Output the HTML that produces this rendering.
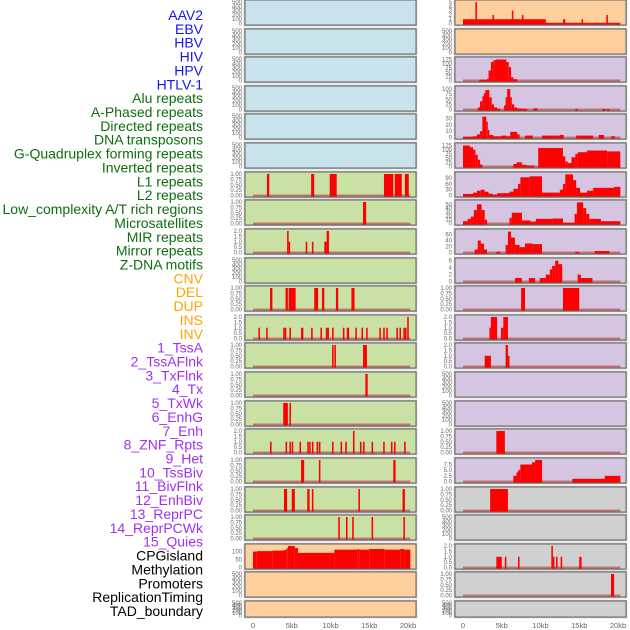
<!DOCTYPE html>
<html><head><meta charset="utf-8"><style>
html,body{margin:0;padding:0;background:#fff;width:630px;height:630px;overflow:hidden}
svg{display:block}
</style></head><body>
<svg id="chart" width="630" height="630" xmlns="http://www.w3.org/2000/svg" font-family="Liberation Sans, sans-serif"></svg>
<script>
const rowLabels = ["AAV2","EBV","HBV","HIV","HPV","HTLV-1","Alu repeats","A-Phased repeats","Directed repeats","DNA transposons","G-Quadruplex forming repeats","Inverted repeats","L1 repeats","L2 repeats","Low_complexity A/T rich regions","Microsatellites","MIR repeats","Mirror repeats","Z-DNA motifs","CNV","DEL","DUP","INS","INV","1_TssA","2_TssAFlnk","3_TxFlnk","4_Tx","5_TxWk","6_EnhG","7_Enh","8_ZNF_Rpts","9_Het","10_TssBiv","11_BivFlnk","12_EnhBiv","13_ReprPC","14_ReprPCWk","15_Quies","CPGisland","Methylation","Promoters","ReplicationTiming","TAD_boundary"];
const labelGroups = [6,13,5,15,5];
const xTickValues = [0,5,10,15,20];
const xTickLabels = ["0","5kb","10kb","15kb","20kb"];

const leftBg = ["b","b","b","b","b","b","g","g","g","g","g","g","g","g","g","g","g","g","g","o","o","o"];
const leftMax = [500,500,500,500,500,500,1,1,2,500,1,2,1,1,1,2,1,1,1,135,500,500];
const leftData = [[],[],[],[],[],[],
 [[1.8,2.1,1],[7.5,7.9,1],[9.9,10.8,1],[16.9,18.1,1],[18.3,19.2,1],[19.6,20.1,1]],
 [[14.2,14.6,1]],
 [[4.4,4.6,2],[4.6,4.75,1],[6.8,7.0,1],[7.6,7.8,1],[9.2,9.5,1],[9.5,9.8,2]],
 [],
 [[2.2,2.5,1],[4.2,4.5,1],[4.6,5.5,1],[7.9,8.4,1],[8.9,9.2,1],[10.7,11.0,1],[12.7,13.1,1]],
 [[0.7,0.9,1],[1.7,1.9,1],[3.9,4.1,1],[4.1,4.3,1],[4.7,4.9,1],[6.2,6.5,1],[7.5,7.7,1],[8.7,8.9,1],[9.4,9.6,1],[9.6,9.8,1],[10.2,10.4,1],[11.6,11.8,1],[12.1,12.4,1],[13.2,13.4,1],[14.0,14.2,1],[14.6,14.8,1],[16.3,16.5,1],[16.8,17.0,1],[17.2,17.4,1],[18.5,18.7,1],[18.9,19.1,1],[19.4,19.6,1],[19.6,19.8,1],[19.9,20.1,2]],
 [[10.2,10.4,1],[10.5,10.7,1],[14.2,14.7,1]],
 [[14.5,14.8,1]],
 [[3.9,4.5,1],[4.7,4.9,1]],
 [[2.2,2.4,1],[4.2,4.4,1],[4.7,4.9,1],[5.0,5.1,1],[6.0,6.2,1],[7.0,7.2,1],[7.25,7.4,1],[7.6,7.8,1],[8.2,8.4,1],[8.5,8.7,1],[10.2,10.4,1],[11.3,11.5,1],[11.9,12.1,1],[12.9,13.1,2],[13.8,14.0,1],[14.2,14.4,1],[15.3,15.5,1],[16.8,17.0,1],[17.8,18.0,1],[18.2,18.4,1],[19.5,19.7,1]],
 [[6.2,6.6,1],[8.5,8.7,1],[18.1,18.4,1]],
 [[4.0,4.4,1],[5.0,5.4,1],[7.0,7.3,1],[7.6,7.8,1],[13.6,13.8,1],[19.3,19.6,1]],
 [[11.0,11.2,1],[12.0,12.2,1],[12.8,13.0,1],[15.3,15.5,1],[19.4,19.6,1]],
 [[0,0.5,100],[0.5,2.5,103],[2.5,4,106],[4,4.3,110],[4.3,4.5,120],[4.5,5.4,135],[5.4,5.8,122],[5.8,10.5,92],[10.5,13.5,112],[13.5,13.7,116],[13.7,15,112],[15,17,116],[17,19,112],[19,19.5,116],[19.5,20.3,112]],
 [],[]];

const rightBg = ["o","o","p","p","p","p","p","p","p","p","p","p","p","p","p","p","p","y","y","y","y","y"];
const rightMax = [5,500,128,105,34,128,112,56,72,6.2,1,2,2,500,500,1,9.5,1,500,2,1,500];
const rightData = [
 [[0,10.5,1],[1.6,1.8,5],[3.8,4.0,2],[6.3,6.5,3],[7.6,7.8,2],[10.5,10.6,1],[10.6,20.3,0.1],[12.9,13.2,1],[15.3,15.5,1],[18.5,18.7,2]],
 [],
 [[2.1,3.1,5],[3.1,3.3,10],[3.3,3.6,60],[3.6,3.9,110],[3.9,4.2,120],[4.2,5.6,125],[5.6,5.9,110],[5.9,6.2,80],[6.2,6.5,20],[6.5,7.0,8]],
 [[1.9,2.2,10],[2.2,2.5,40],[2.5,2.7,65],[2.7,2.9,80],[2.9,3.4,95],[3.4,3.7,60],[3.7,4.0,25],[4.0,4.4,10],[4.4,4.8,4],[5.3,5.5,20],[5.5,5.7,60],[5.7,6.1,100],[6.1,6.3,60],[6.3,6.6,25],[6.6,7.0,10],[7.0,7.6,5],[7.6,8.3,3],[9.1,9.6,6],[14.5,14.8,3],[18.0,18.4,3],[18.6,18.9,3]],
 [[0,1.3,1],[1.3,1.8,2],[1.8,2.2,5],[2.2,2.5,10],[2.5,3.0,33],[3.0,3.2,25],[3.2,3.4,12],[3.4,3.9,4],[3.9,5.0,2],[5.0,5.6,3],[5.6,6.1,2],[6.1,7.0,9],[7.0,7.3,5],[8.0,9.0,3],[10.2,12.5,3],[12.5,13.0,4],[14.6,16.8,3],[17.5,18.2,4],[19.1,19.6,2]],
 [[0,0.9,125],[0.9,1.3,115],[1.3,1.6,100],[1.6,1.9,70],[1.9,2.2,40],[2.2,2.5,12],[6.5,6.9,15],[6.9,7.6,25],[7.6,8.2,10],[8.2,9.2,6],[9.7,12.9,110],[12.9,13.2,60],[13.2,13.5,30],[13.5,14.0,20],[14.0,14.5,55],[14.5,14.8,75],[14.8,16.0,85],[16.0,18.6,95],[18.6,20.3,90]],
 [[0,1.3,8],[1.3,1.8,15],[1.8,2.3,25],[2.3,2.8,30],[2.8,3.3,20],[3.3,3.8,10],[3.8,4.4,5],[4.4,6.0,12],[6.0,6.5,20],[6.5,7.1,35],[7.1,7.4,60],[7.4,8.6,95],[8.6,10.2,100],[10.2,12.5,15],[12.5,12.9,30],[12.9,13.2,60],[13.2,14.2,110],[14.2,14.6,80],[14.6,15.1,40],[15.1,16.0,15],[16.0,16.8,25],[16.8,19.5,40],[19.5,20.3,45]],
 [[0,0.6,6],[0.6,1.0,12],[1.0,1.4,18],[1.4,1.8,35],[1.8,2.4,50],[2.4,2.8,35],[2.8,3.1,10],[6.0,6.3,15],[6.3,7.6,28],[7.6,8.7,8],[8.7,9.4,5],[9.4,11.5,12],[11.5,12.9,13],[12.9,14.4,2],[14.4,14.7,25],[14.7,15.5,55],[15.5,15.9,40],[15.9,16.3,25],[16.3,17.8,12],[17.8,20.3,6]],
 [[1.5,1.9,10],[1.9,2.3,40],[2.3,2.7,30],[2.7,3.1,10],[4.3,4.8,3],[5.5,5.8,25],[5.8,6.2,70],[6.2,6.7,50],[6.7,7.3,25],[7.3,8.0,18],[8.0,9.0,30],[9.0,10.2,28],[14.5,15.0,2],[17.0,18.9,5]],
 [[6.7,7.6,1],[8.5,9.3,1],[9.9,10.7,1],[10.7,11.2,2],[11.2,11.5,3.5],[11.5,11.9,4.5],[11.9,12.3,6],[12.3,12.8,5],[14.8,15.2,2],[15.2,16.7,1]],
 [[7.5,8.0,1],[12.9,15.0,1]],
 [[3.4,3.6,1],[3.6,4.4,2],[4.9,5.2,1],[5.2,5.8,2]],
 [[2.8,3.6,1],[5.5,5.8,2],[5.8,6.0,1]],
 [],[],
 [[4.3,5.4,1]],
 [[6.5,6.9,2.5],[6.9,7.1,4],[7.1,7.4,5],[7.4,8.9,7.5],[8.9,9.3,8.5],[9.3,10.2,9.5],[14.1,18.3,1.2],[18.3,20.3,2.5]],
 [[3.5,5.8,1]],
 [],
 [[4.3,5.0,1],[5.4,5.6,1],[7.1,7.3,1],[11.4,11.6,2],[11.6,11.8,1],[12.0,12.2,1],[12.6,12.8,1],[15.0,15.3,1]],
 [[19.1,19.5,1]],
 []];

const svg = document.getElementById('chart');
const NS = 'http://www.w3.org/2000/svg';
function mk(tag, attrs, parent){ const e=document.createElementNS(NS,tag); for(const k in attrs) e.setAttribute(k,attrs[k]); (parent||svg).appendChild(e); return e; }
const bgColors = {b:'#c8e3eb',g:'#c9e1a5',o:'#fed09e',p:'#d5c5e1',y:'#d0d0d0'};
const groupColors = ['#1515ee','#0e6e0e','#ffa500','#a030f0','#000000'];

// labels
let li = 0;
labelGroups.forEach((n,g)=>{ for(let k=0;k<n;k++){ const t=mk('text',{x:203,y:15+li*13.86+5,'text-anchor':'end','font-size':'14',fill:groupColors[g]});
  t.textContent=rowLabels[li];
  
   li++; } });

function ticksFor(m){
  if(m===500) return [[0,'0'],[100,'100'],[200,'200'],[300,'300'],[400,'400'],[500,'500']];
  if(m===1) return [0,0.25,0.5,0.75,1].map(v=>[v,v.toFixed(2)]);
  if(m===2) return [0,0.5,1,1.5,2].map(v=>[v,v.toFixed(1)]);
  if(m===5) return [0,1,2,3,4,5].map(v=>[v,''+v]);
  if(m===128) return [0,25,50,75,100,125].map(v=>[v,''+v]);
  if(m===105) return [0,25,50,75,100].map(v=>[v,''+v]);
  if(m===34) return [0,10,20,30].map(v=>[v,''+v]);
  if(m===112) return [0,30,60,90].map(v=>[v,''+v]);
  if(m===56) return [0,10,20,30,40,50].map(v=>[v,''+v]);
  if(m===72) return [0,20,40,60].map(v=>[v,''+v]);
  if(m===6.2) return [0,2,4,6].map(v=>[v,''+v]);
  if(m===9.5) return [0,2.5,5,7.5].map(v=>[v,v.toFixed(1)]);
  if(m===135) return [0,50,100].map(v=>[v,''+v]);
  return [[0,'0']];
}

function drawPanel(col,row,bg,ymax,segs){
  const px = col===0?245:455, pw=171;
  const top = Math.round(row*28.62), h = row===21?16:25;
  const x0 = px+8;
  const xs = kb=>x0+kb*7.75;
  const ys = v=>top+h-1.5-(v/ymax)*(h-3.5);
  const g = mk('g',{});
  
  
  mk('rect',{x:px-0.5,y:top-0.5,width:pw+1,height:h+1,fill:'none',stroke:'#bbb','stroke-width':1.5},g);
  const r=mk('rect',{x:px,y:top,width:pw,height:h,fill:bgColors[bg],stroke:'#666','stroke-width':1},g);
  
  
  ticksFor(ymax).forEach(([v,lab])=>{
    const t=mk('text',{x:px-3,y:ys(v)+2,'text-anchor':'end','font-size':'6',fill:'#666'},g);
    t.textContent=lab;
    
    
  });
  if(segs.length){
    const bl=mk('line',{x1:xs(0),x2:xs(20.3),y1:ys(0),y2:ys(0),stroke:'#c05555','stroke-width':2,opacity:0.75},g);
    
    
  }
  segs.forEach(s=>{
    const y=Math.max(top+1,ys(s[2]));
    const b=mk('rect',{x:xs(s[0]),y:y,width:Math.max(1.5,xs(s[1])-xs(s[0])),height:ys(0)-y+1,fill:'#ff0000'},g);
    
    
  });
}
for(let i=0;i<22;i++){ drawPanel(0,i,leftBg[i],leftMax[i],leftData[i]); drawPanel(1,i,rightBg[i],rightMax[i],rightData[i]); }

// x axis labels
[253,463].forEach((x0,c)=>{
  xTickValues.forEach((v,i)=>{
    const t=mk('text',{x:x0+v*7.75,y:628,'text-anchor':'middle','font-size':'7.5',fill:'#666'});
    t.textContent=xTickLabels[i];
    
    
  });
});
</script>
</body></html>
